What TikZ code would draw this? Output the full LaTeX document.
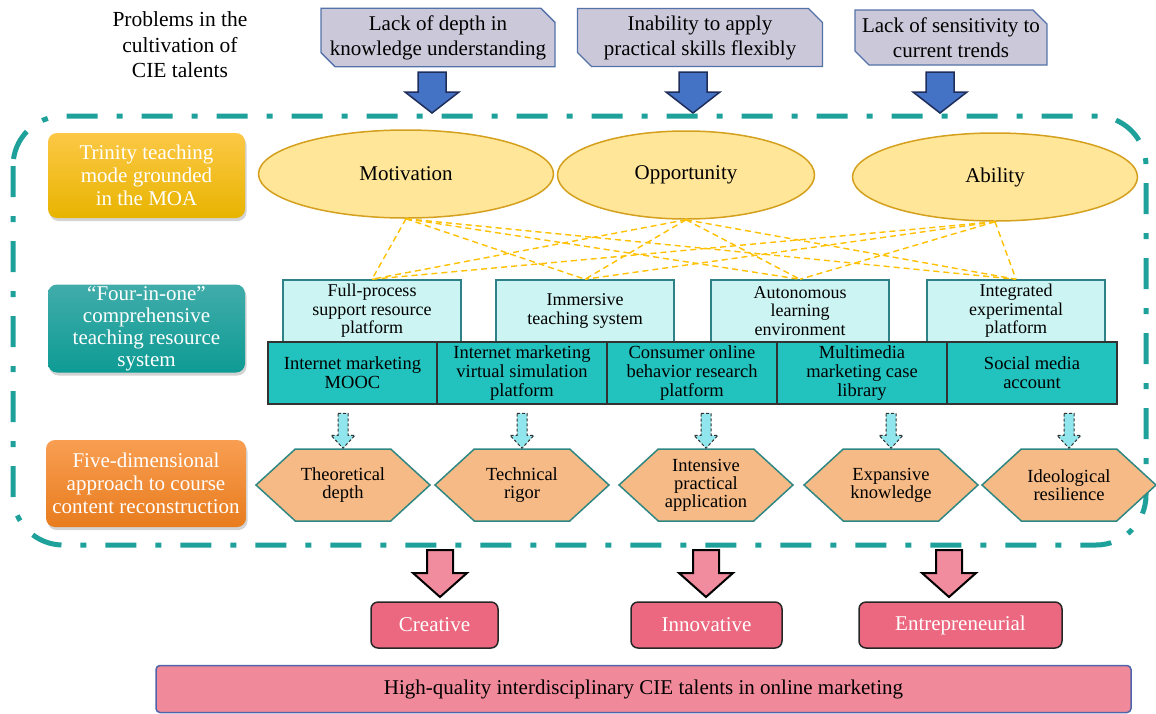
\documentclass[tikz,border=0pt]{standalone}
\usepackage{fontspec}
\setmainfont{Liberation Serif}
\usetikzlibrary{shapes.geometric,shapes.misc,shapes.symbols,shadows,calc}
\definecolor{probfill}{RGB}{203,200,217}
\definecolor{probline}{RGB}{84,114,170}
\definecolor{blueA}{RGB}{68,114,196}
\definecolor{blueB}{RGB}{31,45,90}
\definecolor{ellfill}{RGB}{255,230,153}
\definecolor{ellline}{RGB}{212,160,30}
\definecolor{moadash}{RGB}{255,192,0}
\definecolor{lbfill}{RGB}{204,244,242}
\definecolor{lbline}{RGB}{46,130,135}
\definecolor{dbfill}{RGB}{34,195,190}
\definecolor{dbline}{RGB}{50,50,50}
\definecolor{cyfill}{RGB}{144,230,236}
\definecolor{hexfill}{RGB}{246,186,134}
\definecolor{hexline}{RGB}{46,135,130}
\definecolor{pinkA}{RGB}{240,140,158}
\definecolor{outfill}{RGB}{236,104,128}
\definecolor{goalfill}{RGB}{240,138,155}
\definecolor{goalline}{RGB}{80,100,170}
\definecolor{teal}{RGB}{30,160,155}
\definecolor{trinA}{RGB}{252,200,70}
\definecolor{trinB}{RGB}{232,180,0}
\definecolor{fourA}{RGB}{64,172,170}
\definecolor{fourB}{RGB}{14,155,148}
\definecolor{fiveA}{RGB}{248,158,82}
\definecolor{fiveB}{RGB}{232,124,30}
\tikzset{pics/downarrow/.style n args={5}{code={
  \draw[#5] (-#1,0) -- (#1,0) -- (#1,#3) -- (#2,#3) -- (0,#4) -- (-#2,#3) -- (-#1,#3) -- cycle;}}}
\begin{document}
\begin{tikzpicture}[x=1pt,y=-1pt,
    prob/.style={chamfered rectangle,chamfered rectangle corners={north east,south west},
      chamfered rectangle xsep=7pt,chamfered rectangle ysep=7pt,draw=probline,fill=probfill,
      line width=1.3pt,inner sep=0pt,minimum height=55pt,align=center,font=\fontsize{21}{25}\selectfont},
    bluearr/.style={fill=blueA,draw=blueB,line width=1.5pt},
    cyarr/.style={fill=cyfill,draw=dbline,line width=1pt,dash pattern=on 3pt off 2pt},
    pinkarr/.style={fill=pinkA,draw=black,line width=2pt},
    moaframe/.style={draw=teal,line width=5pt,rounded corners=50pt,dash pattern=on 31pt off 19pt on 6pt off 19pt},
    moa/.style={ellipse,draw=ellline,fill=ellfill,line width=1.5pt,minimum height=88pt,font=\fontsize{21}{24}\selectfont},
    moaline/.style={draw=moadash,line width=1.4pt,dash pattern=on 6pt off 4pt},
    lab/.style={rounded corners=9pt,minimum width=197pt,minimum height=85pt,inner sep=0pt,align=center,text=white,
      drop shadow={opacity=.35,shadow xshift=1.5pt,shadow yshift=-3pt},font=\fontsize{21}{23}\selectfont},
    lbox/.style={draw=lbline,fill=lbfill,line width=1.5pt,minimum width=178pt,minimum height=62pt,inner sep=0pt,
      align=center,font=\fontsize{18}{18.5}\selectfont},
    dbox/.style={draw=dbline,fill=dbfill,line width=2pt,minimum width=170pt,minimum height=62pt,inner sep=0pt,
      align=center,font=\fontsize{18.5}{19}\selectfont},
    hex/.style={signal,signal to=east and west,signal pointer angle=85,draw=hexline,fill=hexfill,line width=1.5pt,
      minimum width=174pt,minimum height=72pt,inner sep=0pt,align=center,font=\fontsize{18.5}{18}\selectfont},
    outc/.style={rounded corners=7pt,draw=black!85,fill=outfill,line width=1.5pt,minimum height=46pt,
      text=white,font=\fontsize{21}{22}\selectfont},
    goal/.style={rounded corners=4pt,draw=goalline,fill=goalfill,line width=1.5pt,minimum width=975pt,
      minimum height=47pt,font=\fontsize{21}{22}\selectfont}]
  \useasboundingbox (0,0) rectangle (1156,713);
  % problems
  \node[align=center,font=\fontsize{21.5}{25.5}\selectfont] (title) at (180,45) {Problems in the\\cultivation of\\CIE talents};
  \foreach[count=\i] \x/\w/\t in {438/234/{Lack of depth in\\knowledge understanding},
      700/245/{Inability to apply\\practical skills flexibly},951/187/{Lack of sensitivity to\\current trends}}
    \node[prob,minimum width=\w pt] (p\i) at (\x,37.5) {\t};
  \foreach \x in {432,693,940}
    \pic at (\x,72) {downarrow={14}{27}{20}{41}{bluearr}};
  \draw[moaframe] (13,116) rectangle (1146,545);
  % MOA
  \node[moa,minimum width=295pt] (mot) at (406,174) {Motivation};
  \node[moa,minimum width=257pt] (opp) at (686,175) {Opportunity};
  \node[moa,minimum width=285pt] (abi) at (995,177) {Ability};
  \node[lab,top color=trinA,bottom color=trinB] (trin) at (146.5,175.5) {Trinity teaching\\mode grounded\\in the MOA};
  \node[lab,top color=fourA,bottom color=fourB,minimum height=88pt,font=\fontsize{21}{22}\selectfont] (four)
    at (146.5,328.5) {“Four-in-one”\\comprehensive\\teaching resource\\system};
  \node[lab,top color=fiveA,bottom color=fiveB,minimum width=200pt,minimum height=87pt] (five)
    at (146,483.5) {Five-dimensional\\approach to course\\content reconstruction};
  % resources
  \foreach[count=\i] \x/\t in {372/{Full-process\\support resource\\platform},585/{Immersive\\teaching system},
      800/{Autonomous\\learning\\environment},1016/{Integrated\\experimental\\platform}}
    \node[lbox] (lb\i) at (\x,311) {\t};
  \foreach[count=\i] \x/\t in {352.5/{Internet marketing\\MOOC},522/{Internet marketing\\virtual simulation\\platform},
      692/{Consumer online\\behavior research\\platform},862/{Multimedia\\marketing case\\library},1032/{Social media\\account}}
    \node[dbox] (db\i) at (\x,373) {\t};
  \foreach \e in {mot,opp,abi}
    \foreach \b in {1,...,4}
      \draw[moaline] (\e.south) -- (lb\b.north);
  % content
  \foreach[count=\i] \x/\t in {343/{Theoretical\\depth},522/{Technical\\rigor},706/{Intensive\\practical\\application},
      891/{Expansive\\knowledge},1069/{Ideological\\resilience}}{
    \node[hex] (hx\i) at (\x,485) {\t};
    \pic at ($(hx\i.north)+(0,-35)$) {downarrow={5}{12}{22}{35}{cyarr}};
  }
  % outcomes
  \foreach[count=\i] \x/\ax/\w/\t in {434.5/440/127/Creative,706.5/706/151/Innovative,960.5/949/203/Entrepreneurial}{
    \node[outc,minimum width=\w pt] (o\i) at (\x,625) {\t};
    \pic at (\ax,550) {downarrow={13}{27}{23}{47}{pinkarr}};
  }
  \node[goal] (goal) at (643.5,689) {High-quality interdisciplinary CIE talents in online marketing};
\end{tikzpicture}
\end{document}
